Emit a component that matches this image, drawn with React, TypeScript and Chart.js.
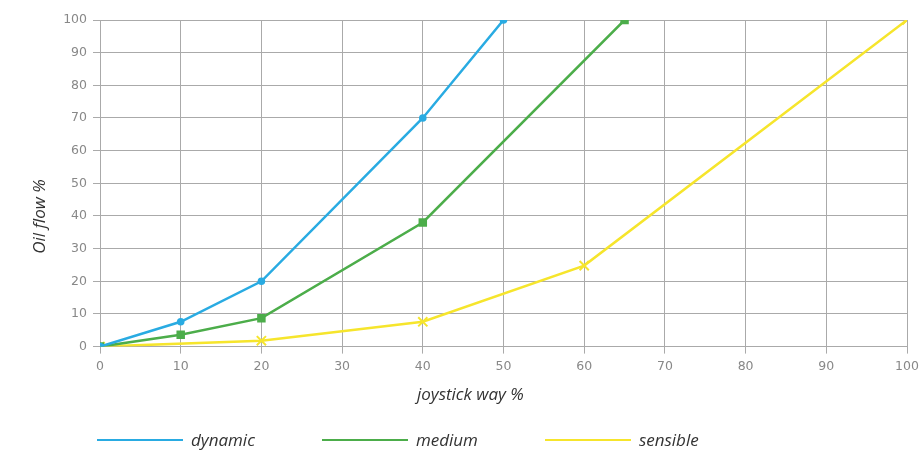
import React, { useEffect, useRef } from "react";
import { Chart, registerables } from "chart.js";

Chart.register(...registerables);

const seriesNames = ["dynamic", "medium", "sensible"];
const seriesColors = ["#29abe2", "#4cad4a", "#f6e52c"];
const dynamicX = [0, 10, 20, 40, 50];
const dynamicY = [0, 7.6, 20, 70, 100];
const mediumX = [0, 10, 20, 40, 65];
const mediumY = [0, 3.6, 8.7, 38, 100];
const sensibleX = [0, 20, 40, 60, 100];
const sensibleY = [0, 1.8, 7.6, 24.8, 100];
const xTitle = "joystick way %";
const yTitle = "Oil flow %";

const pad = "\u00A0".repeat(15);

function pts(xs: number[], ys: number[]) {
  return xs.map((x, i) => ({ x, y: ys[i] }));
}

export default function App() {
  const ref = useRef<HTMLCanvasElement | null>(null);
  useEffect(() => {
    document.body.style.margin = "0";
    const ctx = ref.current!;
    const titleFont = { family: "'Open Sans'", size: 17, style: "italic" as const };
    const tickFont = { family: "'DejaVu Sans'", size: 12.5 };
    const grid = { color: "#aaaaaa", lineWidth: 1, tickLength: 7, tickColor: "#aaaaaa" };
    const chart = new Chart(ctx, {
      type: "line",
      data: {
        datasets: [
          {
            label: seriesNames[0],
            data: pts(dynamicX, dynamicY),
            borderColor: seriesColors[0],
            backgroundColor: seriesColors[0],
            borderWidth: 2.5,
            pointStyle: "circle",
            pointRadius: 3.8,
            pointBorderWidth: 0,
          },
          {
            label: seriesNames[1],
            data: pts(mediumX, mediumY),
            borderColor: seriesColors[1],
            backgroundColor: seriesColors[1],
            borderWidth: 2.5,
            pointStyle: "rect",
            pointRadius: 6,
            pointBorderWidth: 0,
          },
          {
            label: seriesNames[2],
            data: pts(sensibleX, sensibleY),
            borderColor: seriesColors[2],
            backgroundColor: seriesColors[2],
            borderWidth: 2.5,
            pointStyle: "crossRot",
            pointRadius: 6.5,
            pointBorderWidth: 2,
          },
        ],
      },
      options: {
        animation: false,
        responsive: false,
        maintainAspectRatio: false,
        layout: { padding: { left: 0, right: 16, top: 20, bottom: 45 } },
        plugins: { legend: { display: false }, tooltip: { enabled: false } },
        scales: {
          x: {
            type: "linear",
            min: 0,
            max: 100,
            ticks: { stepSize: 10, color: "#888", font: tickFont, padding: 6 },
            grid,
            border: { color: "#aaaaaa" },
            title: { display: true, text: xTitle + pad, color: "#333", font: titleFont, padding: { top: 4, bottom: 0 } },
            afterFit: (s: any) => {
              s.paddingRight = 8;
            },
          },
          y: {
            min: 0,
            max: 100,
            ticks: { stepSize: 10, color: "#888", font: tickFont, padding: 6 },
            grid,
            border: { color: "#aaaaaa" },
            title: { display: true, text: yTitle + pad, color: "#333", font: titleFont, padding: { top: 30, bottom: 0 } },
            afterFit: (s: any) => {
              s.width = 100;
            },
          },
        },
      },
    });
    return () => chart.destroy();
  }, []);

  return (
    <div style={{ position: "relative", width: 923, height: 450, overflow: "hidden" }}>
      <canvas ref={ref} width={923} height={450} style={{ display: "block" }} />
      <div
        style={{
          position: "absolute",
          left: 97,
          top: 428,
          display: "flex",
          alignItems: "center",
          gap: 67,
          fontFamily: "'Open Sans'",
          fontStyle: "italic",
          fontSize: 17,
          color: "#333",
          whiteSpace: "nowrap",
        }}
      >
        {seriesNames.map((n, i) => (
          <div key={n} style={{ display: "flex", alignItems: "center" }}>
            <span style={{ display: "inline-block", width: 86, height: 2, background: seriesColors[i], marginRight: 8 }} />
            <span>{n}</span>
          </div>
        ))}
      </div>
    </div>
  );
}
